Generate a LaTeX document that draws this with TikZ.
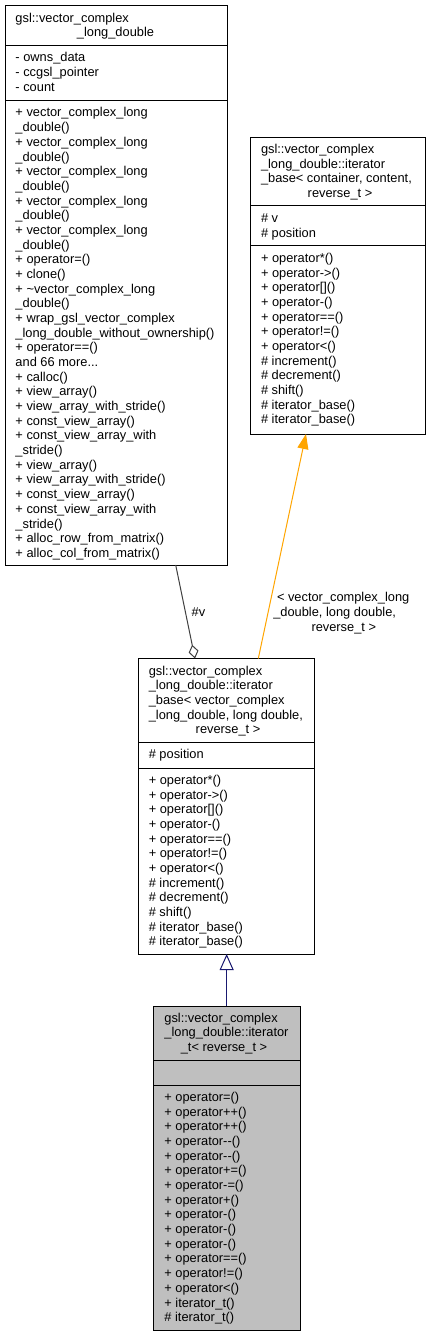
\documentclass[tikz,border=0pt]{standalone}
\usepackage{fontspec}
\setmainfont{Liberation Sans}
\usetikzlibrary{arrows.meta,calc}
\definecolor{aggcol}{HTML}{404040}
\definecolor{inhcol}{HTML}{191970}
\definecolor{tplcol}{HTML}{FFA500}
\definecolor{curfill}{HTML}{BFBFBF}
\begin{document}
\begin{tikzpicture}[x=1pt,y=-1pt,
  umlbox/.style={draw=black, line width=1pt, anchor=north west, inner sep=0pt, outer sep=0pt},
  txt/.style={anchor=north west, inner sep=0pt, outer sep=0pt, align=left, font=\fontsize{12.83}{14.68}\selectfont},
  lft/.style={anchor=base west, inner sep=0pt, outer sep=0pt, font=\fontsize{12.83}{14.68}\selectfont},
  ctr/.style={anchor=base, inner sep=0pt, outer sep=0pt, font=\fontsize{12.83}{14.68}\selectfont},
  sepline/.style={draw=black, line width=1pt},
  aggedge/.style={draw=aggcol, line width=1pt, -{Diamond[open,length=14pt,width=10pt]}},
  tpledge/.style={draw=tplcol, line width=1pt, -{Triangle[length=15pt,width=11pt,fill=tplcol]}},
  inhedge/.style={draw=inhcol, line width=1pt, -{Triangle[open,length=16pt,width=14pt]}}
]
\useasboundingbox (0,0) rectangle (432,1337);
\fill[white] (0,0) rectangle (432,1337);

% ---------- box 1: gsl::vector_complex_long_double ----------
\node[umlbox, minimum width=222pt, minimum height=559pt] (cls) at (5,6) {};
\draw[sepline] (5,46) -- (227,46);
\draw[sepline] (5,101) -- (227,101);
\node[lft] (clsT1) at (15.5,22.3) {gsl::vector\_complex};
\node[ctr] (clsT2) at (115.5,37) {\_long\_double};
\node[txt] (clsA) at (15.5,51.72) {\strut - owns\_data\\\strut - ccgsl\_pointer\\\strut - count};
\node[txt] (clsM) at (15.5,106.72) {\strut + vector\_complex\_long\\
\strut \_double()\\
\strut + vector\_complex\_long\\
\strut \_double()\\
\strut + vector\_complex\_long\\
\strut \_double()\\
\strut + vector\_complex\_long\\
\strut \_double()\\
\strut + vector\_complex\_long\\
\strut \_double()\\
\strut + operator=()\\
\strut + clone()\\
\strut + \textasciitilde{}vector\_complex\_long\\
\strut \_double()\\
\strut + wrap\_gsl\_vector\_complex\\
\strut \_long\_double\_without\_ownership()\\
\strut + operator==()\\
\strut and 66 more...\\
\strut + calloc()\\
\strut + view\_array()\\
\strut + view\_array\_with\_stride()\\
\strut + const\_view\_array()\\
\strut + const\_view\_array\_with\\
\strut \_stride()\\
\strut + view\_array()\\
\strut + view\_array\_with\_stride()\\
\strut + const\_view\_array()\\
\strut + const\_view\_array\_with\\
\strut \_stride()\\
\strut + alloc\_row\_from\_matrix()\\
\strut + alloc\_col\_from\_matrix()};

% ---------- box 2: iterator_base template ----------
\node[umlbox, minimum width=174.5pt, minimum height=296.5pt] (ib2) at (250.5,137.5) {};
\draw[sepline] (250.5,206) -- (425,206);
\draw[sepline] (250.5,246) -- (425,246);
\node[txt] (ib2T) at (261,143.22) {\strut gsl::vector\_complex\\\strut \_long\_double::iterator\\\strut \_base< container, content,};
\node[ctr] (ib2T4) at (340,197.6) {reverse\_t >};
\node[txt] (ib2A) at (261,212.22) {\strut \# v\\\strut \# position};
\node[txt] (ib2M) at (261,252.22) {\strut + operator*()\\
\strut + operator->()\\
\strut + operator[]()\\
\strut + operator-()\\
\strut + operator==()\\
\strut + operator!=()\\
\strut + operator<()\\
\strut \# increment()\\
\strut \# decrement()\\
\strut \# shift()\\
\strut \# iterator\_base()\\
\strut \# iterator\_base()};

% ---------- box 3: iterator_base instance ----------
\node[umlbox, minimum width=176pt, minimum height=295.5pt] (ib3) at (138.3,658.5) {};
\draw[sepline] (138.3,742.5) -- (314.3,742.5);
\draw[sepline] (138.3,768) -- (314.3,768);
\node[txt] (ib3T) at (148.8,664.72) {\strut gsl::vector\_complex\\\strut \_long\_double::iterator\\\strut \_base< vector\_complex\\\strut \_long\_double, long double,};
\node[ctr] (ib3T5) at (228,733.7) {reverse\_t >};
\node[txt] (ib3A) at (148.8,748.22) {\strut \# position};
\node[txt] (ib3M) at (148.8,774.22) {\strut + operator*()\\
\strut + operator->()\\
\strut + operator[]()\\
\strut + operator-()\\
\strut + operator==()\\
\strut + operator!=()\\
\strut + operator<()\\
\strut \# increment()\\
\strut \# decrement()\\
\strut \# shift()\\
\strut \# iterator\_base()\\
\strut \# iterator\_base()};

% ---------- box 4: iterator_t ----------
\node[umlbox, fill=curfill, minimum width=146.7pt, minimum height=324.5pt] (it) at (153.3,1006) {};
\draw[sepline] (153.3,1060.5) -- (300,1060.5);
\draw[sepline] (153.3,1085.5) -- (300,1085.5);
\node[txt] (itT) at (164.4,1011.72) {\strut gsl::vector\_complex\\\strut \_long\_double::iterator};
\node[ctr] (itT3) at (224,1051.4) {\_t< reverse\_t >};
\node[txt] (itM) at (164.4,1091.22) {\strut + operator=()\\
\strut + operator++()\\
\strut + operator++()\\
\strut + operator-{}-()\\
\strut + operator-{}-()\\
\strut + operator+=()\\
\strut + operator-=()\\
\strut + operator+()\\
\strut + operator-()\\
\strut + operator-()\\
\strut + operator-()\\
\strut + operator==()\\
\strut + operator!=()\\
\strut + operator<()\\
\strut + iterator\_t()\\
\strut \# iterator\_t()};

% ---------- connectors ----------
\draw[aggedge] ($(cls.south west)+(170.7,0)$) -- ($(ib3.north west)+(56.7,0)$);
\node[lft] (vlab) at (191.7,616) {\#v};

\draw[tpledge] ($(ib3.north west)+(120,0)$) -- ($(ib2.south west)+(55.5,0)$);
\node[lft] (tl1) at (277,601) {< vector\_complex\_long};
\node[lft] (tl2) at (273.3,616) {\_double, long double,};
\node[lft] (tl3) at (311.5,631) {reverse\_t >};

\draw[inhedge] (it.north) -- (ib3.south -| it.north);
\end{tikzpicture}
\end{document}
